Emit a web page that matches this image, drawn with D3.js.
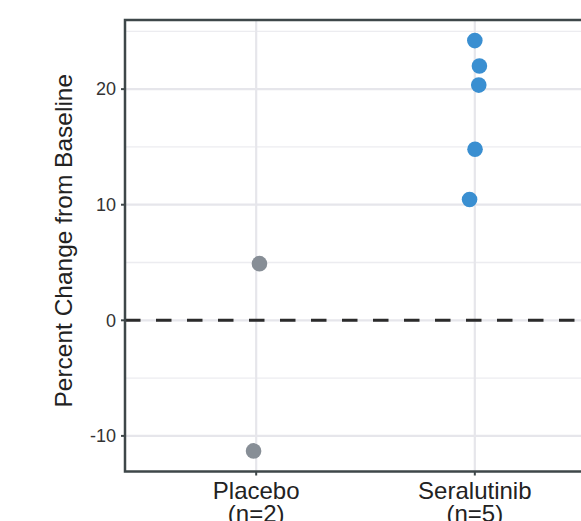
<!DOCTYPE html>
<html><head><meta charset="utf-8">
<script src="https://cdn.jsdelivr.net/npm/d3@7"></script>
<style>html,body{margin:0;padding:0;background:#fff;overflow:hidden}svg{display:block}</style>
</head><body><svg id="c" width="581" height="521"></svg>
<script>
const categories = ["Placebo", "Seralutinib"];
const categoryLabels = [["Placebo", "(n=2)"], ["Seralutinib", "(n=5)"]];
const groups = ["Placebo", "Placebo", "Seralutinib", "Seralutinib", "Seralutinib", "Seralutinib", "Seralutinib"];
const values = [4.9, -11.3, 24.2, 22.0, 20.35, 14.8, 10.45];
const jitter = [0.015, -0.012, 0.0, 0.021, 0.018, 0.001, -0.024];
const yTicks = [-10, 0, 10, 20];
const yMinor = [-5, 5, 15, 25];
const colors = {"Placebo": "#878e96", "Seralutinib": "#3a8fd1"};

(function () {
const svg = d3.select("#c");
const pL = 125, pR = 606, pT = 20, pB = 471.5;
const y = d3.scaleLinear().domain([-13.08, 25.98]).range([pB, pT]);
const x = d3.scaleLinear().domain([0.4, 2.6]).range([pL, pR]);
const xc = c => x(categories.indexOf(c) + 1);
const font = "Liberation Sans, Arial, sans-serif";

const grid = svg.append("g");
grid.selectAll(".mn").data(yMinor).join("line")
  .attr("x1", pL).attr("x2", pR).attr("y1", d => y(d)).attr("y2", d => y(d))
  .attr("stroke", "#ececf0").attr("stroke-width", 1.3);
grid.selectAll(".mj").data(yTicks).join("line")
  .attr("x1", pL).attr("x2", pR).attr("y1", d => y(d)).attr("y2", d => y(d))
  .attr("stroke", "#e6e6eb").attr("stroke-width", 2.2);
grid.selectAll(".vx").data(categories).join("line")
  .attr("x1", d => xc(d)).attr("x2", d => xc(d)).attr("y1", pT).attr("y2", pB)
  .attr("stroke", "#e6e6eb").attr("stroke-width", 2.2);

svg.append("line").attr("x1", pL).attr("x2", pR).attr("y1", y(0)).attr("y2", y(0))
  .attr("stroke", "#2b2b2b").attr("stroke-width", 3).attr("stroke-dasharray", "15.5,15.5");

svg.append("g").selectAll("circle").data(values).join("circle")
  .attr("cx", (d, i) => x(categories.indexOf(groups[i]) + 1 + jitter[i]))
  .attr("cy", d => y(d))
  .attr("r", 7.8)
  .attr("fill", (d, i) => colors[groups[i]]);

svg.append("rect").attr("x", pL).attr("y", pT).attr("width", pR - pL).attr("height", pB - pT)
  .attr("fill", "none").attr("stroke", "#3e4749").attr("stroke-width", 2.5);

const ya = svg.append("g");
ya.selectAll("line").data(yTicks).join("line")
  .attr("x1", pL - 4).attr("x2", pL).attr("y1", d => y(d)).attr("y2", d => y(d))
  .attr("stroke", "#3e4749").attr("stroke-width", 2);
ya.selectAll("text").data(yTicks).join("text")
  .attr("x", 116).attr("y", d => y(d)).attr("dy", "0.35em")
  .attr("text-anchor", "end").attr("font-family", font)
  .attr("font-size", 18).attr("fill", "#333").text(d => d);

const xa = svg.append("g");
xa.selectAll("line").data(categories).join("line")
  .attr("x1", d => xc(d)).attr("x2", d => xc(d)).attr("y1", pB).attr("y2", pB + 4)
  .attr("stroke", "#3e4749").attr("stroke-width", 2);
const xt = xa.selectAll("text").data(categories).join("text")
  .attr("x", d => xc(d)).attr("text-anchor", "middle")
  .attr("font-family", font).attr("font-size", 24).attr("fill", "#222");
xt.each(function (d, i) {
  const t = d3.select(this);
  categoryLabels[i].forEach((s, j) => {
    t.append("tspan").attr("x", xc(d)).attr("y", 499 + j * 23).text(s);
  });
});

svg.append("text").attr("transform", `translate(72,${(pT + pB) / 2 - 5}) rotate(-90)`)
  .attr("text-anchor", "middle").attr("font-family", font)
  .attr("font-size", 24.5).attr("fill", "#222").text("Percent Change from Baseline");
})();
</script></body></html>
